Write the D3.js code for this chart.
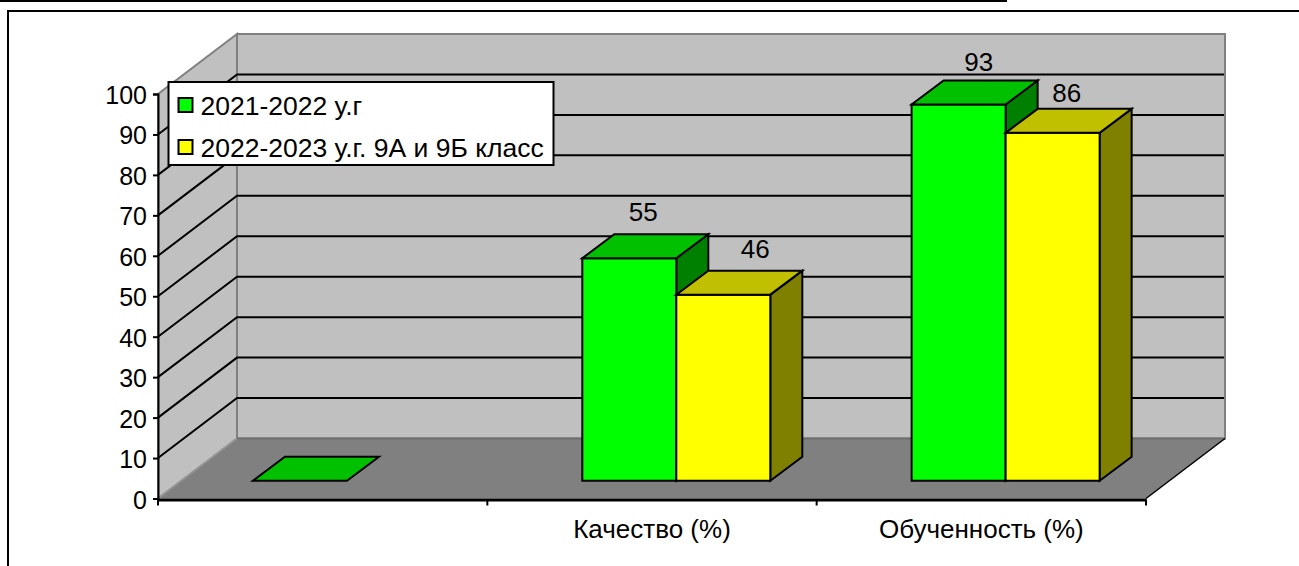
<!DOCTYPE html>
<html><head><meta charset="utf-8">
<script src="https://d3js.org/d3.v7.min.js"></script>
<style>
html,body{margin:0;padding:0;background:#fff;overflow:hidden}
svg{display:block}
text{font-family:"Liberation Sans",Arial,sans-serif;fill:#000}
</style></head><body>
<svg id="c" width="1299" height="566"></svg>
<script>
const categories = ["", "Качество (%)", "Обученность (%)"];
const seriesNames = ["2021-2022 у.г", "2022-2023 у.г. 9А и 9Б класс"];
const series1 = [0, 55, 93];
const series2 = [null, 46, 86];
const yTicks = [0,10,20,30,40,50,60,70,80,90,100];

const svg = d3.select("#c");
const FS = 26;
const AXIS_FS = 25;
const LEG_FS = 26.5;
const front = {l:158, r:1146, b:498.5, t:94};
const depth = {x:79, y:60};
const barOff = {x:24.3, y:17.8};
const barDepth = {x:32, y:24};
const axisY = 499.5;

const x = d3.scaleBand().domain(d3.range(categories.length)).range([front.l, front.r]);
const groupW = 188;
const inner = d3.scaleBand().domain([0,1]).range([0, groupW]);
const y = d3.scaleLinear().domain([0,100]).range([front.b, front.t]);
const poly = (pts, fill, stroke, sw) => svg.append("polygon")
  .attr("points", pts.map(p=>p.join(",")).join(" "))
  .attr("fill", fill).attr("stroke", stroke).attr("stroke-width", sw).attr("stroke-linejoin","miter");

// page rules
svg.append("rect").attr("x",0).attr("y",0).attr("width",1007).attr("height",2).attr("fill","#000");
svg.append("rect").attr("x",8).attr("y",11).attr("width",1400).attr("height",700)
  .attr("fill","none").attr("stroke","#000").attr("stroke-width",2);

// walls
const bx = depth.x, by = depth.y;
poly([[front.l,y(0)],[front.l,y(100)],[front.l+bx,y(100)-by],[front.l+bx,y(0)-by]],"#c0c0c0","#808080",2);
poly([[front.l+bx,y(100)-by],[front.r+bx,y(100)-by],[front.r+bx,y(0)-by],[front.l+bx,y(0)-by]],"#c0c0c0","#808080",2);

// gridlines
const gridVals = yTicks.filter(v=>v>0 && v<100);
svg.append("g").selectAll("path").data(gridVals).join("path")
  .attr("d", v=>d3.line()([[front.l,y(v)],[front.l+bx,y(v)-by],[front.r+bx-1,y(v)-by]]))
  .attr("fill","none").attr("stroke","#000").attr("stroke-width",2);

// floor
poly([[front.l,y(0)],[front.l+bx,y(0)-by],[front.r+bx,y(0)-by],[front.r,y(0)]],"#808080","none",0);
svg.append("line").attr("x1",front.l).attr("y1",y(0)).attr("x2",front.l+bx).attr("y2",y(0)-by).attr("stroke","#999").attr("stroke-width",1.5);
svg.append("line").attr("x1",front.l+bx).attr("y1",y(0)-by).attr("x2",front.r+bx).attr("y2",y(0)-by).attr("stroke","#6e6e6e").attr("stroke-width",2);
svg.append("line").attr("x1",front.r).attr("y1",y(0)).attr("x2",front.r+bx).attr("y2",y(0)-by).attr("stroke","#000").attr("stroke-width",1.5);

// bars
const colors = [
  {front:"#00ff00", top:"#00c000", side:"#008000"},
  {front:"#ffff00", top:"#c0c000", side:"#808000"}
];
const labelShift = [[null,[14,-13],[20,-10]],[null,[32,-13],[14,-7]]];
function bar(ci, si, v){
  if (v === null) return;
  const x0 = x(ci) + (x.bandwidth()-groupW)/2 + barOff.x + inner(si);
  const x1 = x0 + inner.bandwidth();
  const b = y(0) - barOff.y;
  const t = y(v) - barOff.y;
  const c = colors[si];
  const g = {f:[[x0,b],[x1,b],[x1,t],[x0,t]],
    top:[[x0,t],[x1,t],[x1+barDepth.x,t-barDepth.y],[x0+barDepth.x,t-barDepth.y]],
    side:[[x1,b],[x1+barDepth.x,b-barDepth.y],[x1+barDepth.x,t-barDepth.y],[x1,t]]};
  if (v>0){
    poly(g.side,c.side,"#000",2);
    poly(g.f,c.front,"#000",2);
  }
  poly(g.top,c.top,"#000",2);
  const s = labelShift[si][ci];
  if (s) svg.append("text").attr("x",(x0+x1)/2+s[0]).attr("y",t-barDepth.y+s[1])
    .attr("text-anchor","middle").attr("font-size",FS).text(v);
}
categories.forEach((_,ci)=>{ bar(ci,0,series1[ci]); });
categories.forEach((_,ci)=>{ bar(ci,1,series2[ci]); });

// y axis
const ax = svg.append("g").attr("transform",`translate(${front.l},0)`)
  .call(d3.axisLeft(y).tickValues(yTicks).tickSize(5).tickPadding(6).tickFormat(d3.format("d")));
ax.selectAll("path").attr("stroke","#000").attr("stroke-width",2);
ax.selectAll("line").attr("stroke","#000").attr("stroke-width",2);
ax.selectAll("text").attr("font-size",AXIS_FS).attr("font-family",null).attr("dy","0.38em");

// x axis
const bxAx = svg.append("g").attr("transform",`translate(0,${axisY})`)
  .call(d3.axisBottom(x).tickSize(0).tickPadding(20).tickFormat(i=>categories[i]));
bxAx.selectAll("path").attr("stroke","#000").attr("stroke-width",3);
bxAx.selectAll("text").attr("font-size",FS).attr("font-family",null);
svg.append("g").selectAll("line").data(d3.range(categories.length+1)).join("line")
  .attr("x1",i=>front.l+i*x.step()).attr("x2",i=>front.l+i*x.step())
  .attr("y1",axisY).attr("y2",axisY+6).attr("stroke","#000").attr("stroke-width",2);

// legend
const lg = svg.append("g").attr("transform","translate(168.5,82)");
lg.append("rect").attr("width",385).attr("height",83).attr("fill","#fff").attr("stroke","#000").attr("stroke-width",2);
const row = lg.selectAll("g").data(seriesNames).join("g").attr("transform",(d,i)=>`translate(0,${23+i*42})`);
row.append("rect").attr("x",10).attr("y",-7).attr("width",14).attr("height",14)
  .attr("fill",(d,i)=>colors[i].front).attr("stroke","#000").attr("stroke-width",2);
row.append("text").attr("x",32).attr("y",9.5).attr("font-size",LEG_FS).text(d=>d);
</script>
</body></html>
